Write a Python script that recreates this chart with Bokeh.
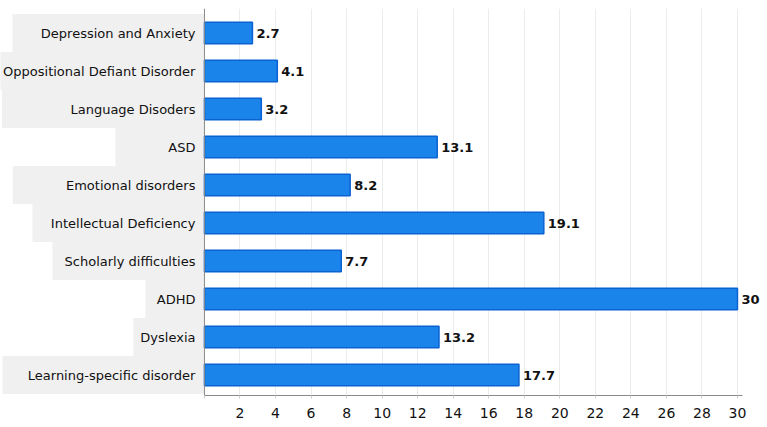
from bokeh.plotting import figure
from bokeh.models import ColumnDataSource, Range1d, FixedTicker, Span
from bokeh.core.properties import value
from bokeh.embed import file_html
from bokeh.resources import INLINE

categories = ["Depression and Anxiety", "Oppositional Defiant Disorder", "Language Disoders",
              "ASD", "Emotional disorders", "Intellectual Deficiency", "Scholarly difficulties",
              "ADHD", "Dyslexia", "Learning-specific disorder"]
values = [2.7, 4.1, 3.2, 13.1, 8.2, 19.1, 7.7, 30, 13.2, 17.7]
tick_values = list(range(0, 31, 2))
tick_labels = {t: ("" if t == 0 else str(t)) for t in tick_values}
# left edge of the grey label backgrounds (x units)
label_box_left = [-10.81, -11.7, -11.4, -5.01, -10.79, -9.68, -8.56, -3.32, -4.0, -11.37]

ypos = list(range(len(categories)))
src = ColumnDataSource(dict(
    y=ypos, cat=categories, val=values,
    lab=[f"{v:g}" for v in values],
    box_left=label_box_left,
    box_top=[i - 0.5 for i in ypos], box_bot=[i + 0.5 for i in ypos],
    zero=[0] * len(ypos),
))

p = figure(width=767, height=427, output_backend="svg", toolbar_location=None,
           x_range=Range1d(-11.48, 31.69), y_range=Range1d(9.539, -0.645),
           min_border_left=0, min_border_right=0, min_border_top=8, min_border_bottom=32)
p.outline_line_color = None
p.background_fill_color = "white"
p.yaxis.visible = False
p.ygrid.visible = False

p.xgrid.ticker = FixedTicker(ticks=tick_values[1:])
p.xgrid.grid_line_color = "#ececec"
p.xgrid.grid_line_width = 1

ax = p.xaxis[0]
ax.ticker = FixedTicker(ticks=tick_values)
ax.major_label_overrides = tick_labels
ax.bounds = (0, 30.3)
ax.axis_line_color = "#8a8a8a"
ax.major_tick_line_color = "#cccccc"
ax.major_tick_out = 3
ax.major_tick_in = 0
ax.minor_tick_line_color = None
ax.major_label_standoff = 9
ax.major_label_text_font = "DejaVu Sans"
ax.major_label_text_font_size = "14px"
ax.major_label_text_color = "#111111"

p.quad(left="box_left", right="zero", top="box_top", bottom="box_bot", source=src,
       fill_color="#f0f0f0", line_color=None)

p.add_layout(Span(location=0, dimension="height", line_color="#8a8a8a", line_width=1))

p.hbar(y="y", left=0, right="val", height=0.566, source=src,
       fill_color="#1a84ea", line_color="#0b62d2", line_width=1.5)

p.text(x="zero", y="y", text="cat", source=src, x_offset=-9,
       text_align="right", text_baseline="middle",
       text_font=value("DejaVu Sans"), text_font_size="13px", text_color="#111111")

p.text(x="val", y="y", text="lab", source=src, x_offset=4,
       text_align="left", text_baseline="middle",
       text_font=value("DejaVu Sans"), text_font_size="13px", text_font_style="bold",
       text_color="#111111")

open("out.html", "w").write(file_html(p, INLINE))
